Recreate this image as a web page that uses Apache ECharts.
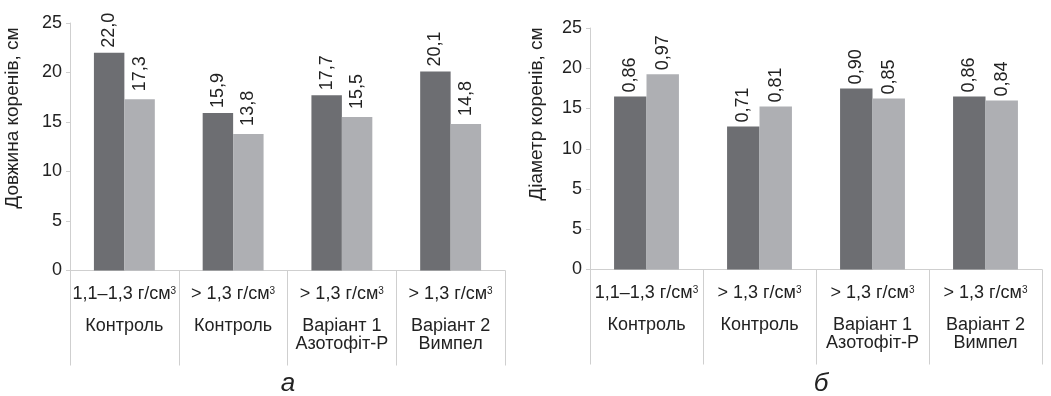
<!DOCTYPE html>
<html><head><meta charset="utf-8">
<script src="https://cdn.jsdelivr.net/npm/echarts@6/dist/echarts.min.js"></script>
<style>html,body{margin:0;padding:0;background:#fff}#c{width:1051px;height:396px}</style>
</head><body><div id="c"></div>
<script>
const densityLabels = ['1,1–1,3 г/см', '> 1,3 г/см', '> 1,3 г/см', '> 1,3 г/см'];
const variantLabels = ['Контроль', 'Контроль', 'Варіант 1\nАзотофіт-Р', 'Варіант 2\nВимпел'];
const lengthDark = [22.0, 15.9, 17.7, 20.1];
const lengthLight = [17.3, 13.8, 15.5, 14.8];
const diamDark = [0.86, 0.71, 0.90, 0.86];
const diamLight = [0.97, 0.81, 0.85, 0.84];
const lengthTicks = ['0', '5', '10', '15', '20', '25'];
const diamTicks = ['0', '5', '5', '10', '15', '20', '25'];

const FONT = "'Liberation Sans', Arial, sans-serif";
const TXT = '#222';
const AX = '#cfcfcf';
const DARK = '#6d6e72';
const LIGHT = '#aeafb3';

const cats = variantLabels.map((v, i) => densityLabels[i] + '|' + v);

function xLabel(value, index) {
  const lines = variantLabels[index].split('\n').map(l => '{v|' + l + '}').join('\n');
  return '{d|' + densityLabels[index] + '}{s|3}\n' + lines;
}
const xRich = {
  d: { fontSize: 18, lineHeight: 47, color: TXT, fontFamily: FONT },
  s: { fontSize: 10, lineHeight: 47, color: TXT, fontFamily: FONT, padding: [0, 0, 6, 0] },
  v: { fontSize: 18, lineHeight: 18, color: TXT, fontFamily: FONT }
};

function xAxisCfg(gi) {
  return {
    type: 'category', gridIndex: gi, data: cats,
    axisLine: { lineStyle: { color: AX, width: 1 } },
    axisTick: { show: true, length: 95, interval: 0, lineStyle: { color: AX } },
    axisLabel: { interval: 0, margin: 0, formatter: xLabel, rich: xRich }
  };
}
function yAxisCfg(gi, max, interval, ticks) {
  return {
    type: 'value', gridIndex: gi, min: 0, max: max, interval: interval,
    axisLine: { show: true, lineStyle: { color: AX, width: 1 } },
    axisTick: { show: true, length: 4, lineStyle: { color: AX } },
    splitLine: { show: false },
    axisLabel: { margin: 8, fontSize: 18, color: TXT, fontFamily: FONT,
      formatter: (v, i) => ticks[i] }
  };
}
function labelCfg(dec, dist) {
  return {
    show: true, position: 'top', rotate: 90, align: 'left', verticalAlign: 'middle',
    distance: dist, fontSize: 18, color: TXT, fontFamily: FONT,
    formatter: p => p.value.toFixed(dec).replace('.', ',')
  };
}

const chart = echarts.init(document.getElementById('c'), null, { renderer: 'canvas' });
chart.setOption({
  animation: false,
  backgroundColor: '#fff',
  grid: [
    { left: 70, top: 23, width: 435, height: 247.5 },
    { left: 590, top: 28, width: 452, height: 241.5 }
  ],
  xAxis: [xAxisCfg(0), xAxisCfg(1)],
  yAxis: [yAxisCfg(0, 25, 5, lengthTicks), yAxisCfg(1, 1.2, 0.2, diamTicks)],
  series: [
    { type: 'bar', xAxisIndex: 0, yAxisIndex: 0, data: lengthDark, barWidth: '28%', barGap: '0%',
      itemStyle: { color: DARK }, label: labelCfg(1, 5) },
    { type: 'bar', xAxisIndex: 0, yAxisIndex: 0, data: lengthLight, barWidth: '28%', barGap: '0%',
      itemStyle: { color: LIGHT }, label: labelCfg(1, 8) },
    { type: 'bar', xAxisIndex: 1, yAxisIndex: 1, data: diamDark, barWidth: '28.7%', barGap: '0%',
      itemStyle: { color: DARK }, label: labelCfg(2, 4) },
    { type: 'bar', xAxisIndex: 1, yAxisIndex: 1, data: diamLight, barWidth: '28.7%', barGap: '0%',
      itemStyle: { color: LIGHT }, label: labelCfg(2, 4) }
  ],
  graphic: [
    { type: 'text', x: 13, y: 118, rotation: Math.PI / 2,
      style: { text: 'Довжина коренів, см', fontSize: 19, fontFamily: FONT, fill: TXT, align: 'center', verticalAlign: 'middle' } },
    { type: 'text', x: 537, y: 114, rotation: Math.PI / 2,
      style: { text: 'Діаметр коренів, см', fontSize: 19, fontFamily: FONT, fill: TXT, align: 'center', verticalAlign: 'middle' } },
    { type: 'text', x: 288, y: 384,
      style: { text: 'а', fontSize: 26, fontStyle: 'italic', fontFamily: FONT, fill: TXT, align: 'center', verticalAlign: 'middle' } },
    { type: 'text', x: 821, y: 384,
      style: { text: 'б', fontSize: 26, fontStyle: 'italic', fontFamily: FONT, fill: TXT, align: 'center', verticalAlign: 'middle' } }
  ]
});
</script></body></html>
